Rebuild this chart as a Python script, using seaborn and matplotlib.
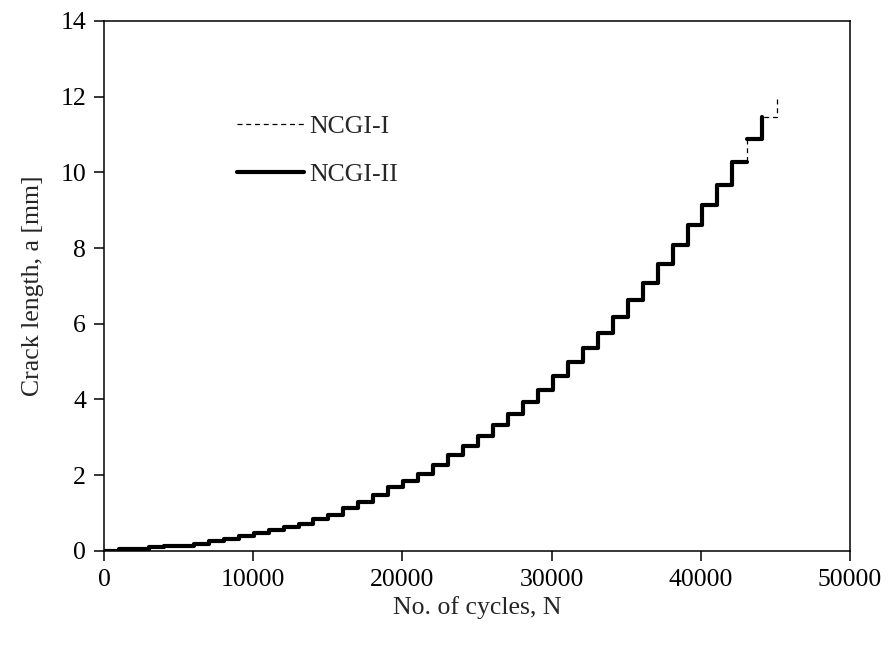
import numpy as np
import pandas as pd
import matplotlib
matplotlib.use("Agg")
import matplotlib.pyplot as plt
import seaborn as sns

# ── Data (step every ~1000 cycles) ──
cycles = [0, 1003, 2006, 3009, 4012, 5015, 6018, 7021, 8024, 9027,
          10030, 11033, 12036, 13039, 14042, 15045, 16048, 17051, 18054, 19057,
          20060, 21063, 22066, 23069, 24072, 25075, 26078, 27081, 28084, 29087,
          30090, 31093, 32096, 33099, 34102, 35105, 36108, 37111, 38114, 39117,
          40120, 41123, 42126, 43129, 44132, 45135]
crack_len = [0.00, 0.04, 0.06, 0.09, 0.12, 0.14, 0.19, 0.26, 0.32, 0.38,
             0.46, 0.54, 0.62, 0.72, 0.84, 0.96, 1.12, 1.28, 1.47, 1.68,
             1.84, 2.04, 2.26, 2.52, 2.77, 3.03, 3.32, 3.62, 3.92, 4.26,
             4.61, 4.98, 5.36, 5.75, 6.18, 6.64, 7.09, 7.58, 8.07, 8.62,
             9.14, 9.67, 10.28, 10.87, 11.46, 12.00]

# NCGI-I runs over all points, NCGI-II stops at 44132 and skips the riser at 43129
ncgi1 = pd.DataFrame({"N": cycles, "a": crack_len})
ncgi2_a = pd.DataFrame({"N": cycles[:44], "a": crack_len[:43] + [crack_len[42]]})
ncgi2_b = pd.DataFrame({"N": cycles[43:45], "a": crack_len[43:45]})

# ── Style ──
sns.set_theme(style="ticks")
plt.rcParams["font.family"] = ["Liberation Serif", "DejaVu Serif"]

fig = plt.figure(figsize=(8.89, 6.55), dpi=100)
ax = fig.add_axes([0.117, 0.159, 0.839, 0.809])

sns.lineplot(data=ncgi2_a, x="N", y="a", ax=ax, drawstyle="steps-post",
             color="black", linewidth=3.0, estimator=None, sort=False,
             label="NCGI-II", solid_capstyle="round")
sns.lineplot(data=ncgi2_b, x="N", y="a", ax=ax, drawstyle="steps-post",
             color="black", linewidth=3.0, estimator=None, sort=False,
             solid_capstyle="round")
sns.lineplot(data=ncgi1, x="N", y="a", ax=ax, drawstyle="steps-post",
             color="black", linewidth=0.9, linestyle=(0, (4, 3)),
             estimator=None, sort=False, label="NCGI-I")

ax.set_xlim(0, 50000)
ax.set_ylim(0, 14)
ax.set_xticks(np.arange(0, 50001, 10000))
ax.set_yticks(np.arange(0, 15, 2))
ax.tick_params(axis="both", direction="out", length=7, width=1.1,
               labelsize=18.5, colors="black", pad=6)
for sp in ax.spines.values():
    sp.set_visible(True)
    sp.set_linewidth(1.1)
    sp.set_color("black")

ax.set_xlabel("No. of cycles, N", fontsize=18.5, labelpad=4)
ax.set_ylabel("Crack length, a [mm]", fontsize=18.5, labelpad=12)

# legend: dashed first, as in the reference
handles, labels = ax.get_legend_handles_labels()
order = [labels.index("NCGI-I"), labels.index("NCGI-II")]
ax.legend([handles[i] for i in order], [labels[i] for i in order],
          loc="upper left", bbox_to_anchor=(0.165, 0.842), frameon=False,
          fontsize=18.5, handlelength=2.6, handletextpad=0.2,
          labelspacing=0.98, borderaxespad=0)

fig.savefig("out.png", dpi=100)
